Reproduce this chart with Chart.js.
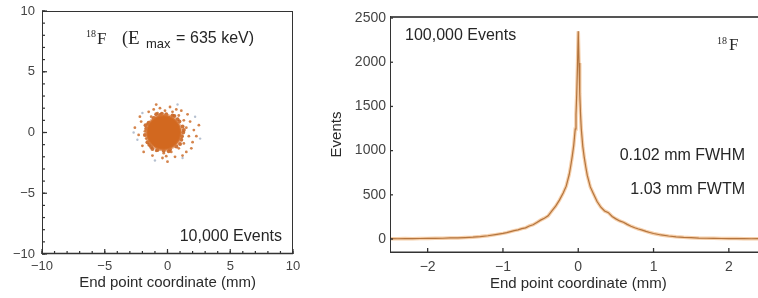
<!DOCTYPE html>
<html>
<head>
<meta charset="utf-8">
<script src="https://cdn.jsdelivr.net/npm/chart.js@4/dist/chart.umd.min.js"></script>
<style>
  html, body { margin: 0; padding: 0; background: #fff; overflow: hidden; width: 758px; height: 298px; }
  #wrap { position: relative; width: 758px; height: 298px; overflow: hidden; }
  #c1 { position: absolute; left: 0; top: 0; }
  #c2 { position: absolute; left: 300px; top: 0; }
</style>
</head>
<body>
<div id="wrap">
  <canvas id="c1" width="300" height="298"></canvas>
  <canvas id="c2" width="470" height="298"></canvas>
</div>
<script>
// ---------------- DATA ----------------
// Left panel: end point scatter (mm)
const coreX = [-0.3];
const coreY = [0.0];
const rimX = [1.2, 1.1, 0.8, 0.4, -0.1, -0.6, -1.1, -1.5, -1.7, -1.8, -1.6, -1.3, -0.8, -0.3, 0.2, 0.7, 1.0, 1.25, 1.3, 0.95, 0.1, -0.9, -1.75, -1.45, 0.55, -0.45, 1.15, -1.2];
const rimY = [0.5, -0.6, 1.1, 1.4, 1.5, 1.45, 1.2, 0.8, 0.3, -0.2, -0.8, -1.2, -1.45, -1.5, -1.4, -1.15, -0.95, 0.0, 0.2, 0.9, -1.55, 1.5, 0.6, -1.0, 1.35, 1.55, -0.3, -1.35];
const edgeX = [1.5, 1.7, 1.3, 0.9, 0.4, -0.2, -0.8, -1.3, -1.6, -1.8, -1.7, -1.4, -0.9, -0.3, 0.3, 0.9, 1.3, 1.8, 2.1, 2.0, 1.1, 0.2, -0.6, -1.5, -2.1, -2.3, -2.0, -1.2, -0.4, 0.6, 1.5, 2.3, -2.6, 2.5, 0.0, -0.9, 1.6, -1.9, 1.2, -1.1, 0.7, -0.1, 1.9, -2.2];
const edgeY = [0.4, -0.3, 1.0, 1.4, 1.7, 1.8, 1.6, 1.3, 0.7, 0.1, -0.5, -1.1, -1.5, -1.7, -1.6, -1.3, -0.9, 0.9, 0.2, -0.8, 1.8, 2.1, 2.0, 1.7, 0.9, -0.2, -1.1, -1.9, -2.1, -2.0, -1.6, -0.3, 0.4, 0.6, -2.4, 2.3, 1.5, -1.6, -1.9, 1.9, 1.9, -1.95, -1.3, 1.3];
const faintX = [-2.4, 2.2, -1.0, 1.2, -2.0, 0.8, -2.7, 2.6];
const faintY = [-0.6, 1.3, -2.3, -2.1, 1.6, 2.3, 0.0, -0.5];
const leftMajorTicks = [-10, -5, 0, 5, 10];
const leftMinorTicks = [-10, -9, -8, -7, -6, -5, -4, -3, -2, -1, 0, 1, 2, 3, 4, 5, 6, 7, 8, 9, 10];

// Right panel: 1-D profile
const profileX = [-2.5,-2.4,-2.3,-2.2,-2.1,-2.0,-1.9,-1.8,-1.7,-1.6,-1.5,-1.4,-1.3,-1.2,-1.1,-1.0,
  -0.95,-0.9,-0.85,-0.8,-0.75,-0.7,-0.65,-0.6,-0.55,-0.5,-0.45,-0.4,-0.35,-0.3,-0.25,-0.2,
  -0.16,-0.12,-0.1,-0.08,-0.06,-0.04,-0.03,-0.02,-0.01,
  0,
  0.01,0.02,0.03,0.04,0.06,0.08,0.1,0.12,0.16,
  0.2,0.25,0.3,0.35,0.4,0.45,0.5,0.55,0.6,0.65,0.7,0.75,0.8,0.85,0.9,0.95,
  1.0,1.1,1.2,1.3,1.4,1.5,1.6,1.7,1.8,1.9,2.0,2.1,2.2,2.3,2.4,2.5];
const profileY = [4,3,5,4,6,7,8,9,12,13,17,21,28,37,50,64,
  72,84,95,104,118,126,148,162,188,214,236,262,318,372,440,520,
  598,730,826,935,1060,1245,1410,1640,1960,
  2350,
  1990,1650,1420,1250,1050,920,815,720,590,
  515,425,360,318,298,255,228,205,190,166,145,128,113,100,86,74,
  63,46,34,25,19,15,11,9,8,6,5,5,4,3,4,3];
const rightXTicks = [-2, -1, 0, 1, 2];
const rightYTicks = [0, 500, 1000, 1500, 2000, 2500];

// ---------------- HELPERS ----------------
const SANS = '"Liberation Sans", Arial, sans-serif';
const SERIF = '"Liberation Serif", "DejaVu Serif", serif';
const minusFmt = v => String(v).replace('-', '\u2212');
const pts = (xs, ys) => xs.map((x, i) => ({x: x, y: ys[i]}));
const noPad = s => { s.paddingLeft = 0; s.paddingRight = 0; s.paddingTop = 0; s.paddingBottom = 0; };

function drawTicks(ctx, scale, values, len, horizontal, area) {
  values.forEach(v => {
    const p = scale.getPixelForValue(v);
    ctx.beginPath();
    if (horizontal) { ctx.moveTo(p, area.bottom); ctx.lineTo(p, area.bottom - len); }
    else { ctx.moveTo(area.left, p); ctx.lineTo(area.left + len, p); }
    ctx.stroke();
  });
}

// ---------------- LEFT CHART ----------------
const leftFrame = {
  id: 'leftFrame',
  afterDatasetsDraw(chart) {
    const {ctx, chartArea: a, scales} = chart;
    ctx.save();
    ctx.strokeStyle = '#333';
    ctx.lineWidth = 1;
    ctx.strokeRect(a.left + 0.5, a.top + 0.5, a.right - a.left - 1, a.bottom - a.top - 1);
    ctx.lineWidth = 1.5;
    ctx.beginPath(); ctx.moveTo(a.left, a.bottom - 0.5); ctx.lineTo(a.right, a.bottom - 0.5); ctx.stroke();
    ctx.lineWidth = 1.2;
    drawTicks(ctx, scales.x, leftMinorTicks, 3, true, a);
    drawTicks(ctx, scales.y, leftMinorTicks, 3, false, a);
    drawTicks(ctx, scales.x, leftMajorTicks, 5, true, a);
    drawTicks(ctx, scales.y, leftMajorTicks, 5, false, a);
    // annotations
    ctx.fillStyle = '#262626';
    ctx.textBaseline = 'alphabetic';
    ctx.textAlign = 'left';
    ctx.font = '10px ' + SERIF; ctx.fillText('18', 86, 37);
    ctx.font = '17px ' + SERIF; ctx.fillText('F', 97, 44);
    ctx.font = '18px ' + SERIF; ctx.fillText('(', 122, 44);
    ctx.font = '19px ' + SERIF; ctx.fillText('E', 128, 44);
    ctx.font = '13px ' + SANS; ctx.fillText('max', 146, 48);
    ctx.font = '16px ' + SANS; ctx.fillText('=', 176, 43);
    ctx.fillText('635 keV)', 190, 43);
    ctx.textAlign = 'right';
    ctx.font = '16px ' + SANS; ctx.fillText('10,000 Events', 282, 241);
    ctx.restore();
  }
};

new Chart(document.getElementById('c1'), {
  type: 'scatter',
  data: {
    datasets: [
      { data: pts(faintX, faintY), pointRadius: 1.2, pointBackgroundColor: 'rgba(120,140,170,0.55)', pointBorderWidth: 0 },
      { data: pts(edgeX, edgeY), pointRadius: 1.4, pointBackgroundColor: 'rgba(205,110,45,0.85)', pointBorderWidth: 0 },
      { data: pts(coreX, coreY), pointRadius: 17.5, pointBackgroundColor: '#d2681f', pointBorderColor: 'rgba(215,120,55,0.6)', pointBorderWidth: 2.5 },
      { data: pts(rimX, rimY), pointRadius: 2, pointBackgroundColor: 'rgba(200,100,35,0.9)', pointBorderWidth: 0 }
    ]
  },
  options: {
    responsive: false, animation: false, devicePixelRatio: 1,
    layout: { autoPadding: false, padding: { left: 0, right: 7, top: 11, bottom: 0 } },
    plugins: { legend: { display: false }, tooltip: { enabled: false } },
    scales: {
      x: {
        type: 'linear', min: -10, max: 10,
        afterBuildTicks: s => { s.ticks = leftMajorTicks.map(v => ({value: v})); },
        afterFit: s => { s.height = 44; noPad(s); },
        grid: { display: false, drawTicks: false }, border: { display: false },
        ticks: { padding: 5, color: '#444', font: { family: SANS, size: 13 }, callback: minusFmt, maxRotation: 0 },
        title: { display: true, text: 'End point coordinate (mm)', color: '#2a2a2a', font: { family: SANS, size: 15 }, padding: { top: 0, bottom: 6 } }
      },
      y: {
        type: 'linear', min: -10, max: 10,
        afterBuildTicks: s => { s.ticks = leftMajorTicks.map(v => ({value: v})); },
        afterFit: s => { s.width = 42; noPad(s); },
        grid: { display: false, drawTicks: false }, border: { display: false },
        ticks: { padding: 7, color: '#444', font: { family: SANS, size: 13 }, callback: minusFmt }
      }
    }
  },
  plugins: [leftFrame]
});

// ---------------- RIGHT CHART ----------------
const rightFrame = {
  id: 'rightFrame',
  afterDatasetsDraw(chart) {
    const {ctx, chartArea: a, scales} = chart;
    ctx.save();
    ctx.strokeStyle = '#555';
    ctx.lineWidth = 2;
    ctx.beginPath(); ctx.moveTo(a.left, a.top + 1); ctx.lineTo(a.right, a.top + 1); ctx.stroke();
    ctx.strokeStyle = '#333';
    ctx.lineWidth = 1;
    ctx.beginPath(); ctx.moveTo(a.left + 0.5, a.top); ctx.lineTo(a.left + 0.5, a.bottom); ctx.stroke();
    ctx.beginPath(); ctx.moveTo(a.right - 0.5, a.top); ctx.lineTo(a.right - 0.5, a.bottom); ctx.stroke();
    ctx.lineWidth = 1.6;
    ctx.beginPath(); ctx.moveTo(a.left, a.bottom - 0.8); ctx.lineTo(a.right, a.bottom - 0.8); ctx.stroke();
    ctx.lineWidth = 1.3;
    drawTicks(ctx, scales.x, rightXTicks, 5, true, a);
    drawTicks(ctx, scales.y, rightYTicks, 3, false, a);
    ctx.fillStyle = '#262626';
    ctx.textBaseline = 'alphabetic';
    ctx.textAlign = 'left';
    ctx.font = '16px ' + SANS; ctx.fillText('100,000 Events', 105, 40);
    ctx.font = '10px ' + SERIF; ctx.fillText('18', 417, 44);
    ctx.font = '17px ' + SERIF; ctx.fillText('F', 429, 50);
    ctx.textAlign = 'right';
    ctx.font = '16px ' + SANS;
    ctx.fillText('0.102 mm FWHM', 445, 160);
    ctx.fillText('1.03 mm FWTM', 445, 194);
    ctx.restore();
  }
};

const profilePts = pts(profileX, profileY);
new Chart(document.getElementById('c2'), {
  type: 'line',
  data: {
    datasets: [
      { data: profilePts, borderColor: 'rgba(238,160,85,0.5)', borderWidth: 3.5, pointRadius: 0, tension: 0, fill: false },
      { data: profilePts, borderColor: '#7a4a26', borderWidth: 1.2, pointRadius: 0, tension: 0, fill: false }
    ]
  },
  options: {
    responsive: false, animation: false, devicePixelRatio: 1,
    layout: { autoPadding: false, padding: { left: 0, right: 3.5, top: 16, bottom: 0 } },
    plugins: { legend: { display: false }, tooltip: { enabled: false } },
    scales: {
      x: {
        type: 'linear', min: -2.5, max: 2.5,
        afterBuildTicks: s => { s.ticks = rightXTicks.map(v => ({value: v})); },
        afterFit: s => { s.height = 45; noPad(s); },
        grid: { display: false, drawTicks: false }, border: { display: false },
        ticks: { padding: 6, color: '#444', font: { family: SANS, size: 14 }, callback: minusFmt, maxRotation: 0 },
        title: { display: true, text: 'End point coordinate (mm)', color: '#2a2a2a', font: { family: SANS, size: 15 }, padding: { top: 0, bottom: 5 } }
      },
      y: {
        type: 'linear', min: -158, max: 2523,
        afterBuildTicks: s => { s.ticks = rightYTicks.map(v => ({value: v})); },
        afterFit: s => { s.width = 90; noPad(s); },
        grid: { display: false, drawTicks: false }, border: { display: false },
        ticks: { padding: 4, color: '#444', font: { family: SANS, size: 14 }, callback: minusFmt },
        title: { display: true, text: 'Events', color: '#2a2a2a', font: { family: SANS, size: 15 }, padding: { top: 28, bottom: 0 } }
      }
    }
  },
  plugins: [rightFrame]
});
</script>
</body>
</html>
